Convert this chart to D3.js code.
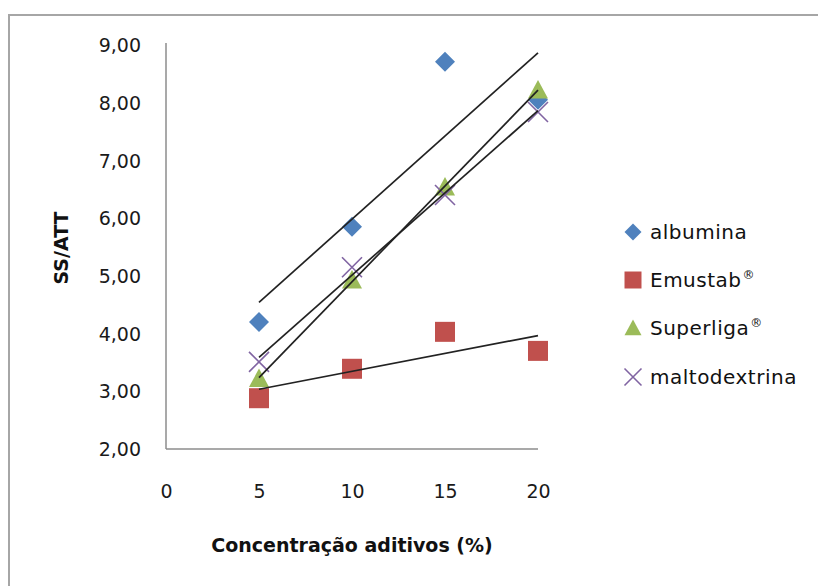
<!DOCTYPE html>
<html><head><meta charset="utf-8">
<script src="https://cdn.jsdelivr.net/npm/d3@7"></script>
<style>body{margin:0;background:#fff}svg{display:block}text{font-family:"DejaVu Sans",sans-serif}</style>
</head><body>
<svg id="c" width="818" height="586"></svg>
<script>
const xValues = [5, 10, 15, 20];
const albumina = [4.20, 5.85, 8.71, 8.05];
const emustab = [2.88, 3.39, 4.03, 3.70];
const superliga = [3.22, 4.93, 6.54, 8.22];
const maltodextrina = [3.51, 5.15, 6.40, 7.84];
const seriesNames = ["albumina", "Emustab", "Superliga", "maltodextrina"];
const seriesSup = ["", "®", "®", ""];
const seriesColors = ["#4F81BD", "#C0504D", "#9BBB59", "#8064A2"];
const seriesSymbols = ["diamond", "square", "triangle", "x"];
const xTicks = [0, 5, 10, 15, 20];
const yTicks = [2, 3, 4, 5, 6, 7, 8, 9];
const xTitle = "Concentração aditivos (%)";
const yTitle = "SS/ATT";

const seriesValues = [albumina, emustab, superliga, maltodextrina];
const svg = d3.select("#c");
svg.append("rect").attr("x", 9).attr("y", 15).attr("width", 830).attr("height", 600)
  .attr("fill", "#fff").attr("stroke", "#a6a6a6").attr("stroke-width", 2);

const x = d3.scaleLinear().domain([0, 20]).range([166, 538]);
const y = d3.scaleLinear().domain([2, 9]).range([449, 45]);

const xAxis = svg.append("g").attr("transform", "translate(0,449)")
  .call(d3.axisBottom(x).tickValues(xTicks).tickSize(0).tickPadding(36).tickFormat(d3.format("d")));
const yAxis = svg.append("g").attr("transform", "translate(166,0)")
  .call(d3.axisLeft(y).tickValues(yTicks).tickSize(0).tickPadding(25).tickFormat(d => d.toFixed(2).replace(".", ",")));
[xAxis, yAxis].forEach(a => {
  a.select(".domain").attr("stroke", "none");
  a.selectAll("text").attr("font-size", 19).attr("fill", "#1a1a1a").attr("font-family", "DejaVu Sans");
});
yAxis.selectAll(".tick text").attr("dy", "0.35em");
svg.append("line").attr("x1", 166).attr("x2", 166).attr("y1", y(9) - 2).attr("y2", 449).attr("stroke", "#8c8c8c").attr("stroke-width", 1.5);
svg.append("line").attr("x1", 166).attr("x2", x(20)).attr("y1", 449).attr("y2", 449).attr("stroke", "#8c8c8c").attr("stroke-width", 1.5);

svg.append("text").attr("x", 352).attr("y", 552).attr("text-anchor", "middle")
  .attr("font-size", 19).attr("font-weight", "bold").attr("fill", "#111").text(xTitle);
svg.append("text").attr("transform", "translate(68,248) rotate(-90)").attr("text-anchor", "middle")
  .attr("font-size", 19).attr("font-weight", "bold").attr("fill", "#111").text(yTitle);

function fit(xs, ys) {
  const mx = d3.mean(xs), my = d3.mean(ys);
  const b = d3.sum(xs.map((v, i) => (v - mx) * (ys[i] - my))) / d3.sum(xs.map(v => (v - mx) ** 2));
  return [b, my - b * mx];
}

function symbolPath(type, s) {
  const h = s / 2;
  if (type === "diamond") return `M0,${-h}L${h},0L0,${h}L${-h},0Z`;
  if (type === "square") return `M${-h},${-h}H${h}V${h}H${-h}Z`;
  if (type === "triangle") return `M0,${-h}L${h},${h * 0.85}L${-h},${h * 0.85}Z`;
  return `M${-h},${-h}L${h},${h}M${h},${-h}L${-h},${h}`;
}
function drawSym(g, type, color, s) {
  const p = g.append("path").attr("d", symbolPath(type, s));
  if (type === "x") p.attr("fill", "none").attr("stroke", color).attr("stroke-width", 1.6);
  else p.attr("fill", color);
}

seriesValues.forEach((vals, i) => {
  vals.forEach((v, j) => {
    const g = svg.append("g").attr("transform", `translate(${x(xValues[j])},${y(v)})`);
    drawSym(g, seriesSymbols[i], seriesColors[i], 20);
  });
});
seriesValues.forEach((vals) => {
  const [b, a] = fit(xValues, vals);
  svg.append("line").attr("x1", x(5)).attr("y1", y(a + b * 5)).attr("x2", x(20)).attr("y2", y(a + b * 20))
    .attr("stroke", "#222").attr("stroke-width", 1.7);
});

const legendY = [232, 280, 328, 377];
seriesNames.forEach((n, i) => {
  const g = svg.append("g").attr("transform", `translate(633,${legendY[i]})`);
  drawSym(g, seriesSymbols[i], seriesColors[i], 17);
  const t = g.append("text").attr("x", 17).attr("y", 0).attr("dy", "0.35em").attr("font-size", 20)
    .attr("letter-spacing", 0.5).attr("fill", "#111").text(n);
  if (seriesSup[i]) t.append("tspan").attr("font-size", 12).attr("dy", "-0.7em").attr("dx", 1).text(seriesSup[i]);
});
</script>
</body></html>
